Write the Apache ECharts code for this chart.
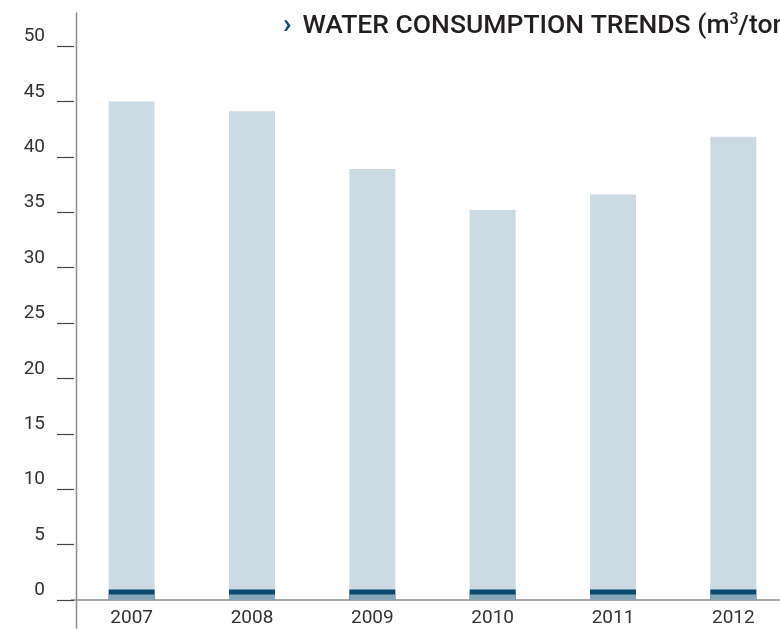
<!DOCTYPE html>
<html><head><meta charset="utf-8">
<script src="https://cdn.jsdelivr.net/npm/echarts@6/dist/echarts.min.js"></script>
<style>html,body{margin:0;padding:0;background:#fff}#c{width:780px;height:629px}</style>
</head><body><div id="c"></div>
<script>
const years = ['2007','2008','2009','2010','2011','2012'];
const consumption = [45.0, 44.1, 38.9, 35.2, 36.6, 41.8];
const markerTop = [0.95, 0.95, 0.95, 0.95, 0.95, 0.95];
const markerBase = [0.5, 0.5, 0.5, 0.5, 0.5, 0.5];
const yTicks = {min: 0, max: 50, interval: 5};

const chart = echarts.init(document.getElementById('c'), null, {renderer: 'canvas'});
const font = 'Roboto, "DejaVu Sans", sans-serif';
chart.setOption({
  animation: false,
  backgroundColor: '#fff',
  title: {
    text: '{c|›} {t|WATER CONSUMPTION TRENDS (m}{s|3}{t|/ton)}',
    left: 278, top: 7,
    textStyle: {
      rich: {
        c: {fontSize: 28, fontWeight: 'bold', color: '#0f4d73', fontFamily: font, padding: [0,6,0,0]},
        t: {fontSize: 26.5, fontWeight: 500, color: '#231f20', fontFamily: font},
        s: {fontSize: 16, fontWeight: 500, color: '#231f20', fontFamily: font, verticalAlign: 'top', padding: [0,0,12,0]}
      }
    }
  },
  grid: {left: 71.5, top: 46, width: 722, bottom: 29, containLabel: false, outerBoundsMode: 'none'},
  xAxis: {
    type: 'category', data: years,
    axisLine: {show: true, lineStyle: {color: '#8c8c8c', width: 1.5}},
    axisTick: {show: false},
    axisLabel: {color: '#333', fontSize: 19, fontFamily: font, margin: 9}
  },
  yAxis: {
    type: 'value', min: yTicks.min, max: yTicks.max, interval: yTicks.interval,
    offset: -2.5,
    axisLine: {show: false},
    axisTick: {show: true, length: 17, lineStyle: {color: '#444', width: 1.2}},
    splitLine: {show: false},
    axisLabel: {color: '#333', fontSize: 19, fontFamily: font, margin: 29, verticalAlign: 'bottom'}
  },
  graphic: [{
    type: 'line', left: 74, top: 10,
    shape: {x1: 0, y1: 0, x2: 0, y2: 616},
    style: {stroke: '#8c8c8c', lineWidth: 1.5}, z: 100
  }],
  series: [
    {type: 'bar', data: consumption, barWidth: 46, barGap: '-100%', itemStyle: {color: '#ccdae3'}, z: 2},
    {type: 'bar', data: markerTop, barWidth: 46, barGap: '-100%', itemStyle: {color: '#0b4a70'}, z: 3},
    {type: 'bar', data: markerBase, barWidth: 46, barGap: '-100%', itemStyle: {color: '#88a6b9'}, z: 4}
  ]
});
</script></body></html>
